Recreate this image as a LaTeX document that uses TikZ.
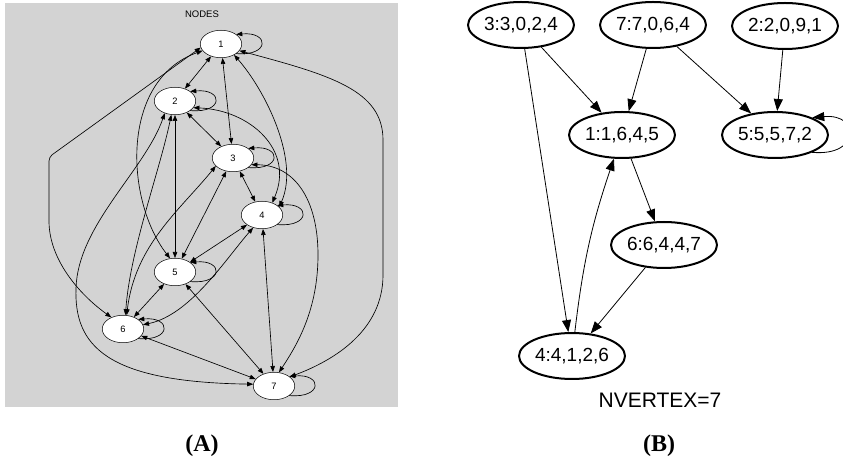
\documentclass[tikz,border=0pt]{standalone}
\usepackage{fontspec}
\setmainfont{Liberation Serif}
\setsansfont{Liberation Sans}
\usetikzlibrary{arrows.meta,shapes.geometric}
\definecolor{panelgray}{HTML}{D3D3D3}

\begin{document}
\begin{tikzpicture}[x=1pt, y=1pt, line cap=round, line join=round,
    gnode/.style={ellipse, draw, fill=white, line width=0.5pt, minimum width=41.5pt,
      minimum height=27.5pt, inner sep=0pt, font=\sffamily\fontsize{9.3}{11}\selectfont},
    gedge/.style={line width=0.65pt, {Triangle[length=6pt,width=4.5pt]}-{Triangle[length=6pt,width=4.5pt]}},
    gloop/.style={line width=0.65pt, -{Triangle[length=6pt,width=4.5pt]}, out=-5, in=5, looseness=4.5},
    vnode/.style={ellipse, draw, line width=2pt, minimum width=106pt, minimum height=46pt,
      inner sep=0pt, font=\sffamily\fontsize{19}{22}\selectfont},
    vedge/.style={line width=0.8pt, -{Triangle[length=12pt,width=9pt]}}]
  \useasboundingbox (0,0) rectangle (843,460);

  % Panel A: grey canvas with the seven nodes
  \fill[panelgray] (5,53.3) rectangle (397.7,457);
  \node[font=\sffamily\fontsize{9.5}{11}\selectfont] (title) at (202,446) {NODES};

  \node[gnode] (n1) at (221,416) {1};
  \node[gnode] (n2) at (175,359) {2};
  \node[gnode] (n3) at (233,302) {3};
  \node[gnode] (n4) at (262,245) {4};
  \node[gnode] (n5) at (175,188) {5};
  \node[gnode] (n6) at (123,131) {6};
  \node[gnode] (n7) at (274,74) {7};

  % straight links
  \foreach \a/\b in {1/2,1/3,2/3,3/4,2/5,3/5,4/5,4/7,5/6,5/7,6/7}
    \draw[gedge] (n\a) -- (n\b);

  % curved links
  \draw[gedge] (n1.-40) .. controls (265,370) and (300,300) .. (n4.25);
  \draw[gedge] (n2.-20) .. controls (250,350) and (295,310) .. (n4.50);
  \draw[gedge] (n1.-20) .. controls (330,385) and (383,370) .. (383,320)
    -- (383,185) .. controls (383,130) and (335,100) .. (n7.30);
  \draw[gedge] (n1.200) .. controls (120,380) and (125,260) .. (n5.110);
  \draw[gedge, rounded corners=4pt] (n1.190) -- (49,303) -- (49,243)
    .. controls (49,200) and (80,165) .. (n6.135);
  \draw[gedge] (n2.230) .. controls (145,290) and (78,235) .. (76,172)
    .. controls (74,115) and (105,78) .. (n7.175);
  \draw[gedge] (n2.255) .. controls (160,290) and (130,210) .. (n6.80);
  \draw[gedge] (n3.205) .. controls (180,250) and (135,215) .. (n6.75);
  \draw[gedge] (n3.-20) .. controls (295,295) and (318,260) .. (318,205)
    .. controls (318,150) and (297,115) .. (n7.70);
  \draw[gedge] (n4.235) .. controls (225,200) and (190,145) .. (n6.12);

  % self loops
  \foreach \i in {1,...,7}
    \draw[gloop] (n\i.-32) to (n\i.32);

  % Panel B: vertex records
  \node[vnode] (b3) at (521,435) {3:3,0,2,4};
  \node[vnode] (b7) at (653,435) {7:7,0,6,4};
  \node[vnode] (b2) at (785,434) {2:2,0,9,1};
  \node[vnode] (b1) at (622,325) {1:1,6,4,5};
  \node[vnode] (b5) at (775,325) {5:5,5,7,2};
  \node[vnode] (b6) at (664,215) {6:6,4,4,7};
  \node[vnode] (b4) at (572,104) {4:4,1,2,6};

  \draw[vedge] (b3) -- (b1);
  \draw[vedge] (b7) -- (b1);
  \draw[vedge] (b7) -- (b5);
  \draw[vedge] (b2) -- (b5);
  \draw[vedge] (b1) -- (b6);
  \draw[vedge] (b6) -- (b4);
  \draw[vedge] (b3) -- (b4);
  \draw[vedge] (b4) to[bend left=6] (b1);
  \draw[vedge] (b5.-25) to[out=-5, in=5, looseness=3.6] (b5.25);

  \node[font=\sffamily\fontsize{21}{24}\selectfont] (count) at (660,60) {NVERTEX=7};

  % panel captions
  \node[font=\bfseries\fontsize{24}{28}\selectfont] (capA) at (202,14) {(A)};
  \node[font=\bfseries\fontsize{24}{28}\selectfont] (capB) at (659,14) {(B)};
\end{tikzpicture}
\end{document}
